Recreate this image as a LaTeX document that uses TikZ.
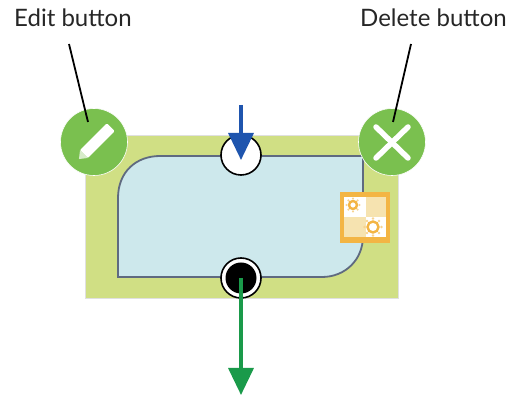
\documentclass[tikz,border=0pt]{standalone}
\usepackage{fontspec}
\setmainfont{Lato}
\usetikzlibrary{arrows.meta}
\definecolor{framegreen}{HTML}{D0DF84}
\definecolor{paleblue}{HTML}{CDE8EC}
\definecolor{outlinegrey}{HTML}{5F6A80}
\definecolor{btngreen}{HTML}{7AC04F}
\definecolor{arrowblue}{HTML}{1F55AE}
\definecolor{arrowgreen}{HTML}{1A9A4A}
\definecolor{iconorange}{HTML}{F3B544}
\definecolor{icontan}{HTML}{F6E3B0}
\tikzset{
  x=1pt,y=-1pt,
  lbl/.style={font=\fontsize{24}{28}\selectfont,text=black!85,inner sep=0pt,anchor=base west},
  btn/.style={circle,fill=btngreen,draw=white,line width=.6pt,minimum size=67pt,inner sep=0pt},
  port/.style={circle,draw=black,line width=1.6pt,fill=white,minimum size=40pt,inner sep=0pt},
  leader/.style={draw=black,line width=1.8pt},
  flowarrow/.style={line width=3.5pt,-{Triangle[width=25pt,length=27pt]}},
  gearicon/.style={draw=iconorange,line width=2.4pt,fill=white,circle,minimum size=11pt,inner sep=0pt},
}
\begin{document}
\begin{tikzpicture}
\useasboundingbox (0,0) rectangle (507,395);
\fill[white] (0,0) rectangle (507,395);
% frame
\node[fill=framegreen,draw=black!12,line width=.5pt,minimum width=313pt,minimum height=163pt,inner sep=0pt] (frame) at (241.5,216.5) {};
% body
\draw[fill=paleblue,draw=outlinegrey,line width=1.8pt]
  (118,277) -- (118,198) .. controls (118,172) and (136,156) .. (160,156)
  -- (363,156) -- (363,236) .. controls (363,260) and (345,277) .. (322,277) -- cycle;
% ports
\node[port] (inport) at (241,155) {};
\node[port] (outring) at (241,278) {};
\node[circle,fill=black,minimum size=31pt,inner sep=0pt] (outport) at (241,278) {};
% buttons
\node[btn] (editbtn) at (94,142) {};
\node[btn] (delbtn) at (392,142) {};
% pencil
\begin{scope}[shift={(94.5,143.5)},rotate=45]
  \fill[white,rounded corners=1pt] (-15,-5.5) rectangle (23,5.5);
  \fill[white!70!btngreen] (-15,-5.5) -- (-22,0) -- (-15,5.5) -- cycle;
\end{scope}
% cross
\draw[white,line width=5.5pt,line cap=round] (376,127) -- (408,158);
\draw[white,line width=5.5pt,line cap=round] (408,127) -- (376,158);
% icon
\fill[iconorange] (340,192) rectangle (390,243);
\fill[white] (344,197) rectangle (386,237);
\fill[icontan] (366,197) rectangle (386,217);
\fill[icontan] (344,217) rectangle (366,237);
\foreach \a in {0,45,...,315}{
  \fill[iconorange!60!white] (353,205) ++(\a:6.5) circle (1.2);
  \fill[iconorange!60!white] (373,227) ++(\a:8.5) circle (1.3);
}
\node[gearicon,minimum size=8pt] (gearone) at (353,205) {};
\node[gearicon,minimum size=11pt] (geartwo) at (373,227) {};
% labels
\node[lbl] (editlbl) at (14,27) {Edit button};
\node[lbl] (dellbl) at (360,27) {Delete button};
% leaders
\coordinate (edita) at (69,44);
\coordinate (editb) at (88,122);
\coordinate (dela) at (411,44);
\coordinate (delb) at (393,122);
\draw[leader] (edita) -- (editb);
\draw[leader] (dela) -- (delb);
% arrows
\coordinate (inst) at (241,105);
\coordinate (intip) at (241,160);
\coordinate (outst) at (241,278);
\coordinate (outtip) at (241,395);
\draw[flowarrow,draw=arrowblue,fill=arrowblue] (inst) -- (intip);
\draw[flowarrow,draw=arrowgreen,fill=arrowgreen] (outst) -- (outtip);
\end{tikzpicture}
\end{document}
